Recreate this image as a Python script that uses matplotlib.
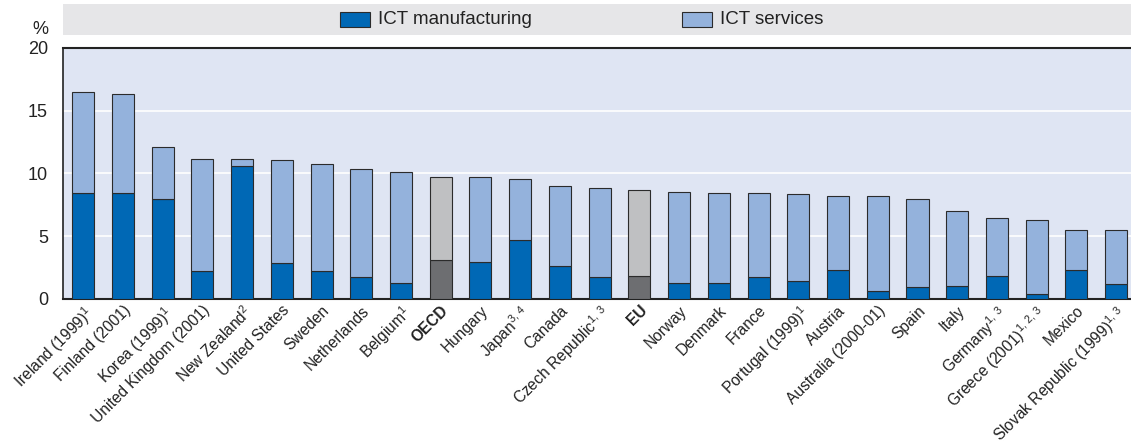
import matplotlib
matplotlib.use("Agg")
import matplotlib.pyplot as plt
from matplotlib import font_manager
from matplotlib.patches import Rectangle

# Share of ICT sector in business sector value added, by component
countries = [
    "Ireland (1999)$^{1}$", "Finland (2001)", "Korea (1999)$^{1}$",
    "United Kingdom (2001)", "New Zealand$^{2}$", "United States", "Sweden",
    "Netherlands", "Belgium$^{1}$", "OECD", "Hungary", "Japan$^{3,\\,4}$",
    "Canada", "Czech Republic$^{1,\\,3}$", "EU", "Norway", "Denmark", "France",
    "Portugal (1999)$^{1}$", "Austria", "Australia (2000-01)", "Spain", "Italy",
    "Germany$^{1,\\,3}$", "Greece (2001)$^{1,\\,2,\\,3}$", "Mexico",
    "Slovak Republic (1999)$^{1,\\,3}$",
]
ict_manufacturing = [
    8.46, 8.46, 7.93, 2.21, 10.62, 2.82, 2.21, 1.71, 1.25, 3.11, 2.95, 4.68,
    2.61, 1.71, 1.79, 1.25, 1.25, 1.71, 1.41, 2.31, 0.64, 0.91, 1.04, 1.79,
    0.37, 2.31, 1.17,
]
ict_total = [
    16.47, 16.36, 12.08, 11.12, 11.12, 11.04, 10.75, 10.38, 10.09, 9.71, 9.71,
    9.58, 8.97, 8.81, 8.70, 8.54, 8.46, 8.46, 8.33, 8.17, 8.17, 7.93, 7.00,
    6.46, 6.25, 5.46, 5.46,
]
ict_services = [t - m for t, m in zip(ict_total, ict_manufacturing)]
aggregates = {"OECD", "EU"}
y_ticks = [0, 5, 10, 15, 20]

avail = {f.name for f in font_manager.fontManager.ttflist}
narrow = "Liberation Sans Narrow" in avail
label_font = "Liberation Sans Narrow" if narrow else "Liberation Sans"
label_size = 13.0 if narrow else 11.2
plt.rcParams["font.family"] = ["Liberation Sans", "DejaVu Sans"]
plt.rcParams["mathtext.fontset"] = "custom"
plt.rcParams["mathtext.rm"] = label_font
plt.rcParams["mathtext.it"] = label_font

W, H = 1131, 445
fig = plt.figure(figsize=(W / 100, H / 100), dpi=100)

def fx(px):
    return px / W

def fy(py):
    return 1 - py / H

ax_left, ax_right, ax_top, ax_bot = 63.3, 1136.0, 48.0, 298.7
ax = fig.add_axes([fx(ax_left), fy(ax_bot), fx(ax_right - ax_left), (ax_bot - ax_top) / H])
ax.set_facecolor("#dfe5f3")

dark_blue, light_blue = "#0068b5", "#94b2dc"
dark_grey, light_grey = "#6d6e71", "#bfc0c2"
edge = "#2b2b2b"
width = 0.555
x = list(range(len(countries)))
names = [c.split("$")[0] for c in countries]
c_man = [dark_grey if n in aggregates else dark_blue for n in names]
c_srv = [light_grey if n in aggregates else light_blue for n in names]

ax.bar(x, ict_manufacturing, width=width, color=c_man, edgecolor=edge, linewidth=0.8, zorder=3)
ax.bar(x, ict_services, width=width, bottom=ict_manufacturing, color=c_srv,
       edgecolor=edge, linewidth=0.8, zorder=3)

ax.set_xlim(-0.5, len(countries) - 0.5)
ax.set_ylim(0, 20)
ax.set_yticks(y_ticks)
ax.set_yticklabels([str(v) for v in y_ticks], fontsize=13, color="#222222")
ax.yaxis.grid(True, color="white", linewidth=1.2, zorder=1)
ax.set_axisbelow(True)
ax.tick_params(axis="y", length=0, pad=11)
ax.tick_params(axis="x", length=0, pad=3)
for s in ["top", "bottom"]:
    ax.spines[s].set_linewidth(1.5)
    ax.spines[s].set_color("#222222")
ax.spines["left"].set_linewidth(1.2)
ax.spines["left"].set_color("#222222")
ax.spines["right"].set_visible(False)

ax.set_xticks(x)
ax.set_xticklabels(countries, rotation=45, ha="right", rotation_mode="anchor",
                   fontsize=label_size, family=label_font, color="#222222")
for lab, n in zip(ax.get_xticklabels(), names):
    if n in aggregates:
        lab.set_fontweight("bold")

fig.text(fx(40), fy(30), "%", fontsize=13, ha="center", va="center", color="#222222")

# legend band
fig.patches.append(Rectangle((fx(63), fy(35)), fx(1131 - 63), 31 / H,
                             transform=fig.transFigure, facecolor="#e6e6e8",
                             edgecolor="none", zorder=0))
for px, col, txt in [(340, dark_blue, "ICT manufacturing"), (682, light_blue, "ICT services")]:
    fig.patches.append(Rectangle((fx(px), fy(27)), fx(30), 15 / H,
                                 transform=fig.transFigure, facecolor=col,
                                 edgecolor=edge, linewidth=0.8, zorder=1))
    fig.text(fx(px + 38), fy(19.5), txt, fontsize=13.5, ha="left", va="center", color="#222222")

fig.savefig("out.png", dpi=100)
